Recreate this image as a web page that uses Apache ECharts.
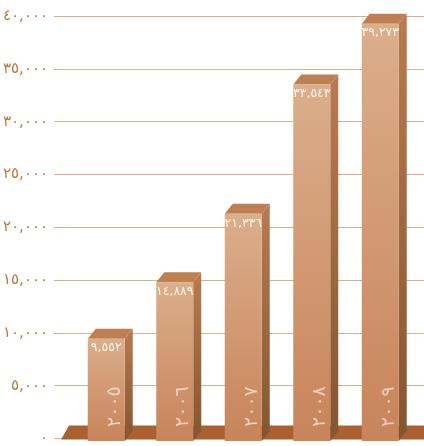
<!DOCTYPE html>
<html>
<head>
<meta charset="utf-8">
<script src="https://cdn.jsdelivr.net/npm/echarts@6/dist/echarts.min.js"></script>
<style>
  html, body { margin: 0; padding: 0; background: #ffffff; }
  #chart { width: 424px; height: 446px; }
</style>
</head>
<body>
<div id="chart"></div>
<script>
// Yearly totals, 2005–2009
const years = ['٢٠٠٥', '٢٠٠٦', '٢٠٠٧', '٢٠٠٨', '٢٠٠٩'];
const totals = [9552, 14889, 21336, 33543, 39273];

// Value axis range
const yMin = 0;
const yMax = 40000;
const yStep = 5000;

const FONT = 'DejaVu Sans';

// Latin digits -> Arabic-Indic digits, with thousands separators
function arabicDigits(n) {
  const s = Math.round(n).toString().replace(/\B(?=(\d{3})+(?!\d))/g, ',');
  return s.replace(/[0-9]/g, d => String.fromCharCode(0x0660 + Number(d)));
}

const DX = 8;   // depth offset to the right
const DY = 10;  // depth offset upward

function renderFloor(params, api) {
  const cs = params.coordSys;
  const yb = cs.y + cs.height + 1;
  const yt = yb - 14;
  const xl = cs.x + 7;
  const xr = cs.x + cs.width + 20;
  return {
    type: 'polygon',
    shape: { points: [[xl, yb], [xl + 8, yt], [xr + 8, yt], [xr, yb]] },
    style: { fill: '#ab6031' }
  };
}

function renderBar(params, api) {
  const i = api.value(0);
  const v = api.value(1);
  const top = api.coord([i, v]);
  const base = api.coord([i, 0]);
  const band = api.size([1, 0])[0];
  const w = band * 0.54;
  const x0 = top[0] - w / 2;
  const x1 = x0 + w;
  const yt = top[1];
  const yb = base[1] + 1;
  return {
    type: 'group',
    children: [
      {
        type: 'polygon',
        shape: { points: [[x1, yt], [x1 + DX, yt - DY], [x1 + DX, yb - DY], [x1, yb]] },
        style: {
          fill: new echarts.graphic.LinearGradient(0, 0, 0, 1, [
            { offset: 0, color: '#b97b4f' },
            { offset: 1, color: '#84552f' }
          ])
        }
      },
      {
        type: 'polygon',
        shape: { points: [[x0, yt], [x0 + DX, yt - DY], [x1 + DX, yt - DY], [x1, yt]] },
        style: { fill: '#be7f52' }
      },
      {
        type: 'rect',
        shape: { x: x0, y: yt, width: w, height: yb - yt },
        style: {
          fill: new echarts.graphic.LinearGradient(0, 0, 0, 1, [
            { offset: 0, color: '#dbae8c' },
            { offset: 1, color: '#c8845a' }
          ])
        }
      },
      {
        type: 'text',
        x: x0 + w / 2,
        y: yt + 3,
        style: {
          text: arabicDigits(v),
          fontFamily: FONT,
          fontSize: 12.5,
          fill: '#fff4ea',
          align: 'center',
          verticalAlign: 'top'
        }
      },
      {
        type: 'text',
        x: x1 - 10,
        y: yb - 14,
        rotation: Math.PI / 2,
        style: {
          text: years[i],
          fontFamily: FONT,
          fontSize: 19,
          fill: 'rgba(248,224,204,0.8)',
          align: 'left',
          verticalAlign: 'middle'
        }
      }
    ]
  };
}

const chart = echarts.init(document.getElementById('chart'), null, { renderer: 'canvas' });

chart.setOption({
  animation: false,
  backgroundColor: '#ffffff',
  grid: [
    { left: 50, right: 0, top: 16, bottom: 6 },
    { left: 72, right: 9.5, top: 16, bottom: 6 }
  ],
  xAxis: [
    { gridIndex: 0, type: 'value', show: false, min: 0, max: 1 },
    { gridIndex: 1, type: 'category', data: years, show: false, boundaryGap: true }
  ],
  yAxis: [
    {
      gridIndex: 0,
      type: 'value',
      min: yMin,
      max: yMax,
      interval: yStep,
      axisLine: { show: false },
      axisTick: { show: false },
      axisLabel: {
        margin: 6,
        fontFamily: FONT,
        fontSize: 15,
        color: '#b9773f',
        formatter: v => arabicDigits(v)
      },
      splitLine: { lineStyle: { color: '#d9b08a', width: 1 } }
    },
    {
      gridIndex: 1,
      type: 'value',
      min: yMin,
      max: yMax,
      interval: yStep,
      show: false,
      splitLine: { show: false }
    }
  ],
  series: [
    {
      type: 'custom',
      xAxisIndex: 0,
      yAxisIndex: 0,
      data: [[0, 0]],
      renderItem: renderFloor,
      silent: true,
      z: 1
    },
    {
      type: 'custom',
      xAxisIndex: 1,
      yAxisIndex: 1,
      data: totals.map((t, i) => [i, t]),
      encode: { x: 0, y: 1 },
      renderItem: renderBar,
      z: 2
    }
  ]
});
</script>
</body>
</html>
